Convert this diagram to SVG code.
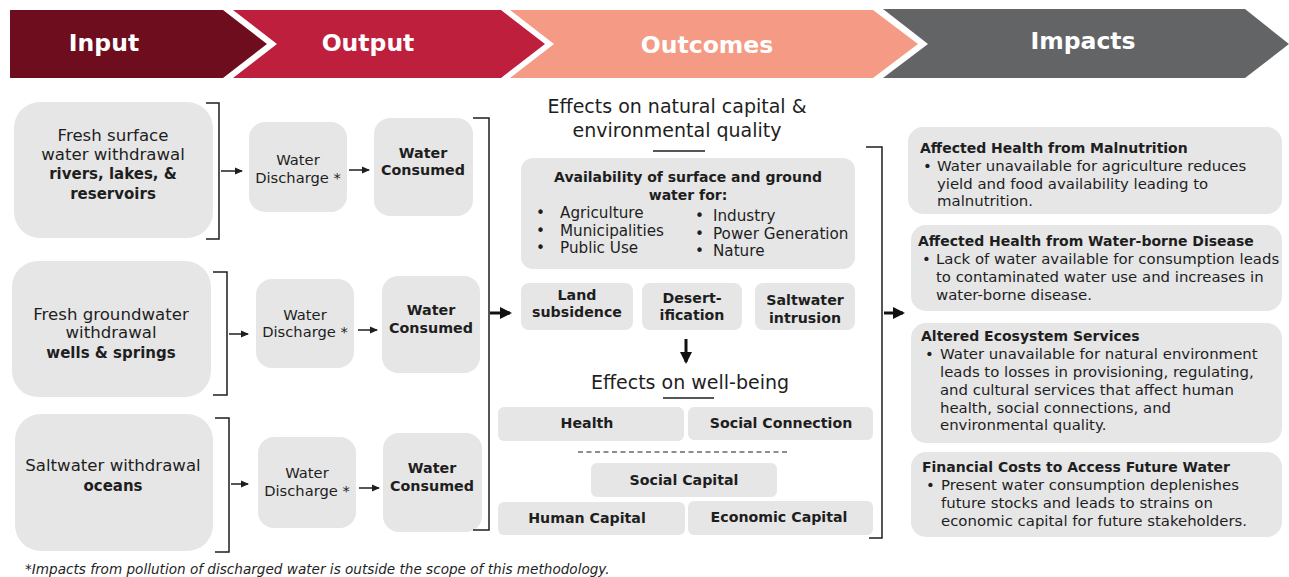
<svg xmlns="http://www.w3.org/2000/svg" width="1289" height="577" viewBox="0 0 1289 577">
  <style>
    text { font-family: "DejaVu Sans", "Liberation Sans", sans-serif; fill: #1e1e1e; }
    .hd { font-size: 23.5px; font-weight: bold; fill: #ffffff; text-anchor: middle; }
    .box { fill: #e6e6e6; }
    .src { font-size: 16.6px; text-anchor: middle; }
    .srcb { font-size: 15px; font-weight: bold; text-anchor: middle; }
    .dis { font-size: 14.7px; text-anchor: middle; }
    .con { font-size: 14.3px; font-weight: bold; text-anchor: middle; }
    .sec { font-size: 19px; text-anchor: middle; }
    .sm { font-size: 14.2px; font-weight: bold; text-anchor: middle; }
    .li { font-size: 15.2px; }
    .it { font-size: 14px; font-weight: bold; }
    .bd { font-size: 14.9px; }
    .note { font-size: 13.6px; font-style: italic; }
    .br { fill: none; stroke: #1e1e1e; stroke-width: 1.5; }
    .ln { stroke: #1e1e1e; stroke-width: 1.5; fill: none; }
    .thk { stroke: #111111; stroke-width: 3; fill: none; }
  </style>
  <defs>
    <marker id="ah" markerWidth="8" markerHeight="8" refX="7" refY="4" orient="auto" markerUnits="userSpaceOnUse">
      <path d="M0,0.5 L8,4 L0,7.5 Z" fill="#1e1e1e"/>
    </marker>
    <marker id="ahb" markerWidth="12" markerHeight="12" refX="10" refY="6" orient="auto" markerUnits="userSpaceOnUse">
      <path d="M0,0 L12,6 L0,12 Z" fill="#111111"/>
    </marker>
  </defs>

  <!-- stage banner: chevrons separated by a white gap -->
  <g id="stages">
    <polygon points="10,10 223,10 267,44 223,78 10,78" fill="#6d0d1d"/>
    <polygon points="233,10 501,10 545,44 501,78 233,78 277,44" fill="#be1f3d"/>
    <polygon points="510,10 873,10 918,44 873,78 510,78 554,44" fill="#f59b85"/>
    <polygon points="883,9 1245,9 1289,44 1245,78 883,78 928,44" fill="#636466"/>
    <text class="hd" x="104" y="51">Input</text>
    <text class="hd" x="368" y="51">Output</text>
    <text class="hd" x="707" y="53">Outcomes</text>
    <text class="hd" x="1083" y="49">Impacts</text>
  </g>

  <!-- inputs -->
  <g id="input-surface">
    <rect class="box" x="14" y="102" width="199" height="136" rx="26"/>
    <text class="src" x="113" y="141">Fresh surface</text>
    <text class="src" x="113" y="160">water withdrawal</text>
    <text class="srcb" x="113" y="179">rivers, lakes, &amp;</text>
    <text class="srcb" x="113" y="199">reservoirs</text>
  </g>
  <g id="input-ground">
    <rect class="box" x="12" y="261" width="199" height="136" rx="26"/>
    <text class="src" x="111" y="320">Fresh groundwater</text>
    <text class="src" x="111" y="338">withdrawal</text>
    <text class="srcb" x="111" y="358">wells &amp; springs</text>
  </g>
  <g id="input-salt">
    <rect class="box" x="15" y="414" width="198" height="137" rx="26"/>
    <text class="src" x="113" y="471">Saltwater withdrawal</text>
    <text class="srcb" x="113" y="491">oceans</text>
  </g>

  <!-- outputs -->
  <g id="discharge-1">
    <rect class="box" x="249" y="122" width="98" height="90" rx="16"/>
    <text class="dis" x="298" y="165">Water</text>
    <text class="dis" x="298" y="183">Discharge *</text>
  </g>
  <g id="consumed-1">
    <rect class="box" x="374" y="118" width="99" height="98" rx="16"/>
    <text class="con" x="423" y="158">Water</text>
    <text class="con" x="423" y="175">Consumed</text>
  </g>
  <g id="discharge-2">
    <rect class="box" x="256" y="279" width="98" height="89" rx="16"/>
    <text class="dis" x="305" y="320">Water</text>
    <text class="dis" x="305" y="337">Discharge *</text>
  </g>
  <g id="consumed-2">
    <rect class="box" x="382" y="276" width="98" height="97" rx="16"/>
    <text class="con" x="431" y="315">Water</text>
    <text class="con" x="431" y="333">Consumed</text>
  </g>
  <g id="discharge-3">
    <rect class="box" x="258" y="437" width="98" height="91" rx="16"/>
    <text class="dis" x="307" y="478">Water</text>
    <text class="dis" x="307" y="496">Discharge *</text>
  </g>
  <g id="consumed-3">
    <rect class="box" x="383" y="433" width="99" height="99" rx="16"/>
    <text class="con" x="432" y="473">Water</text>
    <text class="con" x="432" y="491">Consumed</text>
  </g>

  <!-- outcomes: natural capital -->
  <g id="natural-capital">
    <text class="sec" x="677" y="113">Effects on natural capital &amp;</text>
    <text class="sec" x="677" y="137">environmental quality</text>
    <line class="ln" x1="653" y1="151" x2="705" y2="151"/>
  </g>
  <g id="availability">
    <rect class="box" x="521" y="158" width="334" height="111" rx="12"/>
    <text class="it" x="688" y="182" text-anchor="middle">Availability of surface and ground</text>
    <text class="it" x="688" y="200" text-anchor="middle">water for:</text>
    <text class="li" x="536" y="218">•</text>
    <text class="li" x="560" y="218">Agriculture</text>
    <text class="li" x="536" y="236">•</text>
    <text class="li" x="560" y="236">Municipalities</text>
    <text class="li" x="536" y="253">•</text>
    <text class="li" x="560" y="253">Public Use</text>
    <text class="li" x="695" y="221">•</text>
    <text class="li" x="713" y="221">Industry</text>
    <text class="li" x="695" y="239">•</text>
    <text class="li" x="713" y="239">Power Generation</text>
    <text class="li" x="695" y="256">•</text>
    <text class="li" x="713" y="256">Nature</text>
  </g>
  <g id="land-subsidence">
    <rect class="box" x="521" y="283" width="112" height="47" rx="8"/>
    <text class="sm" x="577" y="300">Land</text>
    <text class="sm" x="577" y="317">subsidence</text>
  </g>
  <g id="desertification">
    <rect class="box" x="642" y="283" width="100" height="47" rx="8"/>
    <text class="sm" x="692" y="303">Desert-</text>
    <text class="sm" x="692" y="320">ification</text>
  </g>
  <g id="saltwater-intrusion">
    <rect class="box" x="755" y="283" width="100" height="47" rx="8"/>
    <text class="sm" x="805" y="305">Saltwater</text>
    <text class="sm" x="805" y="323">intrusion</text>
  </g>

  <!-- outcomes: well-being -->
  <g id="well-being">
    <text class="sec" x="690" y="389">Effects on well-being</text>
    <line class="ln" x1="663" y1="398" x2="714" y2="398"/>
  </g>
  <g id="health">
    <rect class="box" x="498" y="407" width="186" height="34" rx="6"/>
    <text class="sm" x="587" y="428">Health</text>
  </g>
  <g id="social-connection">
    <rect class="box" x="688" y="407" width="185" height="33" rx="6"/>
    <text class="sm" x="781" y="428">Social Connection</text>
  </g>
  <g id="social-capital">
    <rect class="box" x="591" y="463" width="186" height="34" rx="6"/>
    <text class="sm" x="684" y="485">Social Capital</text>
  </g>
  <g id="human-capital">
    <rect class="box" x="498" y="502" width="187" height="33" rx="6"/>
    <text class="sm" x="587" y="523">Human Capital</text>
  </g>
  <g id="economic-capital">
    <rect class="box" x="688" y="501" width="185" height="34" rx="6"/>
    <text class="sm" x="779" y="522">Economic Capital</text>
  </g>

  <!-- impacts -->
  <g id="impact-malnutrition">
    <rect class="box" x="908" y="127" width="374" height="87" rx="15"/>
    <text class="it" x="920" y="153">Affected Health from Malnutrition</text>
    <text class="bd" x="923" y="171">•</text>
    <text class="bd" x="937" y="171">Water unavailable for agriculture reduces</text>
    <text class="bd" x="937" y="189">yield and food availability leading to</text>
    <text class="bd" x="937" y="206">malnutrition.</text>
  </g>
  <g id="impact-waterborne">
    <rect class="box" x="911" y="225" width="371" height="86" rx="15"/>
    <text class="it" x="918" y="246">Affected Health from Water-borne Disease</text>
    <text class="bd" x="922" y="264">•</text>
    <text class="bd" x="936" y="264">Lack of water available for consumption leads</text>
    <text class="bd" x="936" y="282">to contaminated water use and increases in</text>
    <text class="bd" x="936" y="300">water-borne disease.</text>
  </g>
  <g id="impact-ecosystem">
    <rect class="box" x="911" y="323" width="371" height="120" rx="15"/>
    <text class="it" x="921" y="341">Altered Ecosystem Services</text>
    <text class="bd" x="925" y="359">•</text>
    <text class="bd" x="940" y="359">Water unavailable for natural environment</text>
    <text class="bd" x="940" y="377">leads to losses in provisioning, regulating,</text>
    <text class="bd" x="940" y="395">and cultural services that affect human</text>
    <text class="bd" x="940" y="413">health, social connections, and</text>
    <text class="bd" x="940" y="430">environmental quality.</text>
  </g>
  <g id="impact-financial">
    <rect class="box" x="911" y="452" width="371" height="85" rx="15"/>
    <text class="it" x="922" y="472">Financial Costs to Access Future Water</text>
    <text class="bd" x="926" y="490">•</text>
    <text class="bd" x="941" y="490">Present water consumption deplenishes</text>
    <text class="bd" x="941" y="508">future stocks and leads to strains on</text>
    <text class="bd" x="941" y="526">economic capital for future stakeholders.</text>
  </g>

  <!-- connectors: brackets and arrows -->
  <g id="connectors">
    <polyline class="br" points="206,103 219,103 219,239 206,239"/>
    <polyline class="br" points="213,272 227,272 227,395 213,395"/>
    <polyline class="br" points="215,418 229,418 229,552 215,552"/>
    <polyline class="br" points="473,118 489,118 489,530 473,530"/>
    <polyline class="br" points="866,147 882,147 882,538 869,538"/>

    <line class="ln" x1="221" y1="171" x2="242" y2="171" marker-end="url(#ah)"/>
    <line class="ln" x1="229" y1="334" x2="248" y2="334" marker-end="url(#ah)"/>
    <line class="ln" x1="231" y1="484" x2="248" y2="484" marker-end="url(#ah)"/>

    <line class="ln" x1="349" y1="170" x2="369" y2="170" marker-end="url(#ah)"/>
    <line class="ln" x1="358" y1="330" x2="377" y2="330" marker-end="url(#ah)"/>
    <line class="ln" x1="359" y1="488" x2="379" y2="488" marker-end="url(#ah)"/>

    <line class="thk" x1="490" y1="313" x2="510" y2="313" marker-end="url(#ahb)"/>
    <line class="thk" x1="686" y1="339" x2="686" y2="362" marker-end="url(#ahb)"/>
    <line class="thk" x1="884" y1="313" x2="903" y2="313" marker-end="url(#ahb)"/>

    <line x1="578" y1="452" x2="788" y2="452" stroke="#1e1e1e" stroke-width="1.2" stroke-dasharray="5,3.5"/>
  </g>

  <text class="note" x="25" y="574">*Impacts from pollution of discharged water is outside the scope of this methodology.</text>
</svg>
